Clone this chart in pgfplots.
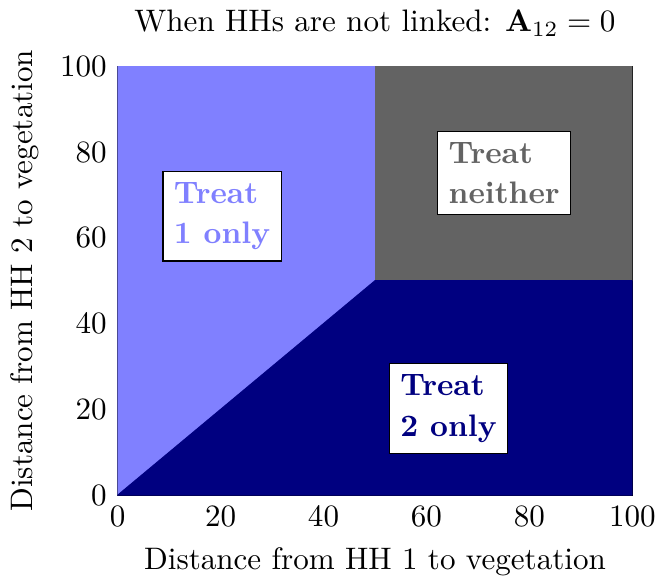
\documentclass[border=0pt]{standalone}
\usepackage{pgfplots}
\pgfplotsset{compat=1.18}
\definecolor{lblue}{RGB}{128,128,255}
\definecolor{dgray}{RGB}{99,99,99}
\definecolor{dnavy}{RGB}{0,0,128}
\begin{document}
\begin{tikzpicture}
\begin{axis}[
  scale only axis,
  width=165.6pt, height=138pt,
  xmin=0, xmax=100, ymin=0, ymax=100,
  xtick={0,20,...,100}, ytick={0,20,...,100},
  tick style={draw=none},
  title={When HHs are not linked: $\mathbf{A}_{12}=0$},
  xlabel={Distance from HH 1 to vegetation},
  ylabel={Distance from HH 2 to vegetation},
]
\addplot[fill=lblue, draw=lblue, line width=0.3pt] coordinates {(0,0) (50,50) (50,100) (0,100)} -- cycle;
\addplot[fill=dgray, draw=dgray, line width=0.3pt] coordinates {(50,50) (100,50) (100,100) (50,100)} -- cycle;
\addplot[fill=dnavy, draw=dnavy, line width=0.3pt] coordinates {(0,0) (100,0) (100,50) (50,50)} -- cycle;
\node[fill=white, draw=black, align=left, text=lblue, font=\bfseries, inner sep=3.5pt] at (axis cs:20.3,65) {Treat\\[1pt]1 only};
\node[fill=white, draw=black, align=left, text=dgray, font=\bfseries, inner sep=3.5pt] at (axis cs:75.1,75.1) {Treat\\[1pt]neither};
\node[fill=white, draw=black, align=left, text=dnavy, font=\bfseries, inner sep=3.5pt] at (axis cs:64.3,20.2) {Treat\\[1pt]2 only};
\end{axis}
\end{tikzpicture}
\end{document}
